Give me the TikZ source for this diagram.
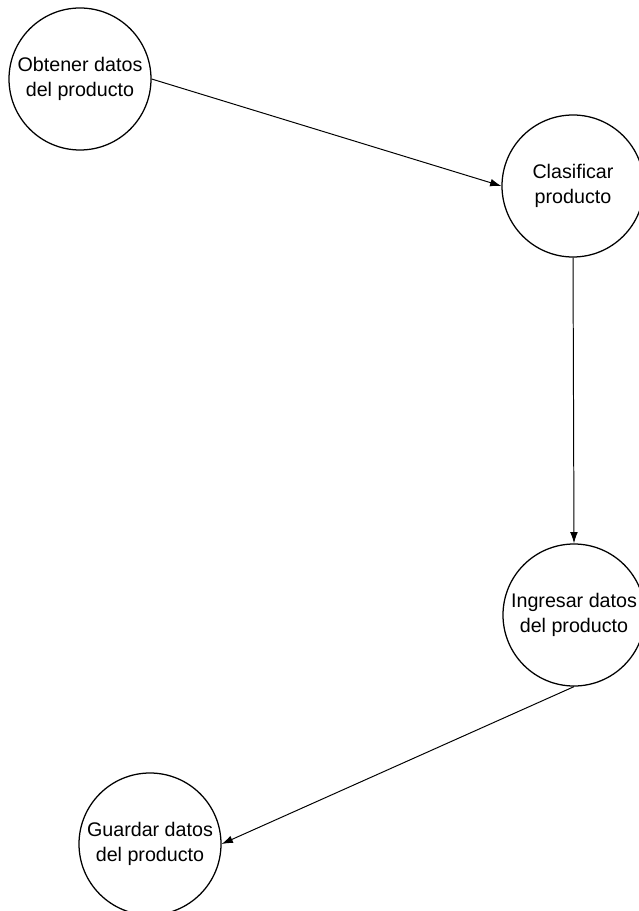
\documentclass[tikz,border=0pt]{standalone}
\usepackage{fontspec}
\setmainfont{Liberation Sans}
\usetikzlibrary{arrows.meta}
\def\radio{71}

\begin{document}
\begin{tikzpicture}[x=0.025cm, y=-0.025cm,
    proceso/.style={draw, circle, line width=0.9pt, inner sep=0pt,
      minimum size=2*\radio*0.025cm, align=center,
      font=\fontsize{14}{17.5}\selectfont},
    flecha/.style={-{Latex[length=8pt,width=5.5pt]}, line width=0.7pt}]
    \useasboundingbox (0,0) rectangle (638,911);
    % procesos
    \node[proceso] (obtener) at (80, 79) {Obtener datos\\del producto};
    \node[proceso] (clasificar) at (573, 186) {Clasificar\\producto};
    \node[proceso] (ingresar) at (574, 615) {Ingresar datos\\del producto};
    \node[proceso] (guardar) at (150, 844) {Guardar datos\\del producto};
    % flujo
    \draw[flecha] (obtener.east) -- (clasificar.west);
    \draw[flecha] (clasificar.south) -- (ingresar.north);
    \draw[flecha] (ingresar.south) -- (guardar.east);
\end{tikzpicture}
\end{document}
